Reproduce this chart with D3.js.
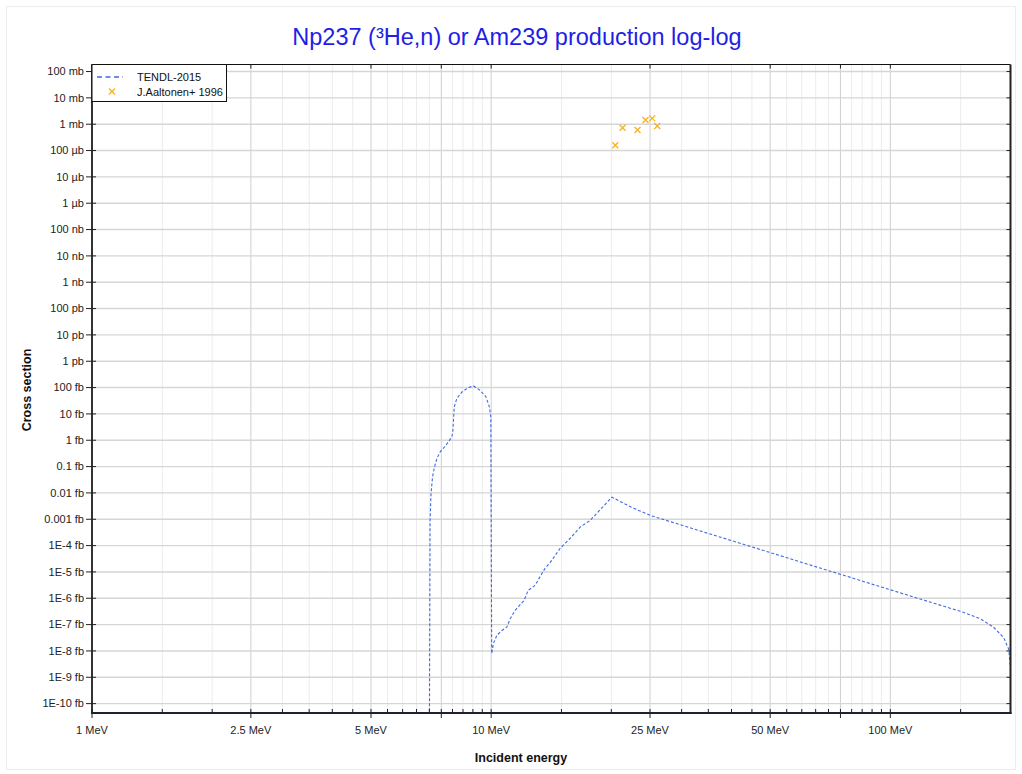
<!DOCTYPE html>
<html>
<head>
<meta charset="utf-8">
<script src="https://cdn.jsdelivr.net/npm/d3@7"></script>
<style>
  html, body { margin: 0; padding: 0; background: #fff; }
  svg { display: block; font-family: "Liberation Sans", Arial, Helvetica, sans-serif; }
</style>
</head>
<body>
<svg id="chart" width="1022" height="774"></svg>
<script>
// ---- data ----
const tendlEnergy = [7.0, 7.03, 7.07, 7.13, 7.21, 7.31, 7.45, 7.67, 7.97, 8.02, 8.08, 8.2, 8.45, 8.77, 9.03, 9.38, 9.71, 9.9, 9.98, 10.03,
  10.13, 10.33, 10.64, 10.95, 11.16, 11.49, 11.78, 12.09, 12.38, 12.89, 13.27, 13.66, 14.06, 14.89, 15.78, 16.72, 17.71, 20.07,
  22.4, 25.03, 33.4, 44.6, 59.5, 79.4, 94.4, 118.9, 149.8, 168.1, 181.5, 192.3, 198, 200];
const tendlXs = [1e-12, 9e-4, 0.0097, 0.04, 0.096, 0.2, 0.36, 0.59, 1.33, 2.4, 18, 38, 68, 100, 115, 79, 44, 18, 7.6, 7.9e-9,
  1.9e-8, 3.9e-8, 6e-8, 8.1e-8, 1.67e-7, 3.5e-7, 5.4e-7, 8.3e-7, 2e-6, 3.1e-6, 6.8e-6, 1.4e-5, 2.3e-5, 7.9e-5, 1.9e-4, 5.1e-4, 9.1e-4, 6.9e-3,
  2.9e-3, 1.4e-3, 3.6e-4, 9.3e-5, 2.4e-5, 6.2e-6, 2.75e-6, 9.3e-7, 3.2e-7, 1.66e-7, 7.9e-8, 3.2e-8, 1.15e-8, 2.3e-9]; // fb

const expEnergy = [20.46, 21.34, 23.26, 24.36, 25.32, 26.06];
const expXs = [1.6e11, 7.3e11, 6.0e11, 1.44e12, 1.67e12, 8.5e11]; // fb

const yTickValues = [1e14, 1e13, 1e12, 1e11, 1e10, 1e9, 1e8, 1e7, 1e6, 1e5, 1e4, 1e3, 1e2, 1e1, 1, 1e-1, 1e-2, 1e-3, 1e-4, 1e-5, 1e-6, 1e-7, 1e-8, 1e-9, 1e-10];
const yTickLabels = ["100 mb", "10 mb", "1 mb", "100 µb", "10 µb", "1 µb", "100 nb", "10 nb", "1 nb", "100 pb", "10 pb", "1 pb",
  "100 fb", "10 fb", "1 fb", "0.1 fb", "0.01 fb", "0.001 fb", "1E-4 fb", "1E-5 fb", "1E-6 fb", "1E-7 fb", "1E-8 fb", "1E-9 fb", "1E-10 fb"];

const xMajorTicks = [1, 2.5, 5, 7.5, 10, 25, 50, 75, 100];
const xLabelTicks = [1, 2.5, 5, 10, 25, 50, 100];
const xLabels = ["1 MeV", "2.5 MeV", "5 MeV", "10 MeV", "25 MeV", "50 MeV", "100 MeV"];
const xMinorTicks = [1.5, 2, 3, 3.5, 4, 4.5, 5.5, 6, 6.5, 7, 8, 8.5, 9, 9.5, 15, 20, 30, 35, 40, 45, 55, 60, 65, 70, 80, 85, 90, 95, 150];

const seriesNames = ["TENDL-2015", "J.Aaltonen+ 1996"];
const titleText = "Np237 (³He,n) or Am239 production log-log";

// ---- layout ----
const L = 92, R = 1010.5, T = 64.5, B = 713;
const svg = d3.select("#chart");

const x = d3.scaleLog().domain([1, 200]).range([L, R]);
const y = d3.scaleLog().domain([4.4e-11, 1.85e14]).range([B, T]);

// outer faint frame
svg.append("rect").attr("x", 6.5).attr("y", 6.5).attr("width", 1009).attr("height", 763)
  .attr("fill", "none").attr("stroke", "#ececec");

// title
svg.append("text").attr("x", 517).attr("y", 45).attr("text-anchor", "middle")
  .attr("font-size", 23.5).attr("fill", "#1e1ee6").text(titleText);

// grid
const grid = svg.append("g");
grid.selectAll(".minorV").data(xMinorTicks).join("line")
  .attr("x1", d => x(d)).attr("x2", d => x(d)).attr("y1", T).attr("y2", B)
  .attr("stroke", "#ececec").attr("stroke-width", 1);
grid.selectAll(".majorV").data(xMajorTicks).join("line")
  .attr("x1", d => x(d)).attr("x2", d => x(d)).attr("y1", T).attr("y2", B)
  .attr("stroke", "#cfcfcf").attr("stroke-width", 1);
grid.selectAll(".h").data(yTickValues).join("line")
  .attr("x1", L).attr("x2", R).attr("y1", d => y(d)).attr("y2", d => y(d))
  .attr("stroke", "#d6d6d6").attr("stroke-width", 1.4);

// clip
svg.append("clipPath").attr("id", "clip").append("rect")
  .attr("x", L).attr("y", T).attr("width", R - L).attr("height", B - T);

// TENDL line
const line = d3.line().x((d, i) => x(tendlEnergy[i])).y((d, i) => y(tendlXs[i]));
svg.append("path").datum(tendlXs).attr("clip-path", "url(#clip)")
  .attr("d", line).attr("fill", "none").attr("stroke", "#4169e1")
  .attr("stroke-width", 1.1).attr("stroke-dasharray", "3,2");

// experimental points
const cs = 3;
const pts = svg.append("g").selectAll("g").data(expXs).join("g")
  .attr("transform", (d, i) => `translate(${x(expEnergy[i])},${y(d)})`);
pts.append("path").attr("d", `M${-cs},${-cs}L${cs},${cs}M${-cs},${cs}L${cs},${-cs}`)
  .attr("stroke", "#f7b21e").attr("stroke-width", 1.3).attr("fill", "none");

// axes frame
svg.append("line").attr("x1", L).attr("x2", R).attr("y1", T).attr("y2", T).attr("stroke", "#111").attr("stroke-width", 1);
svg.append("line").attr("x1", L).attr("x2", L).attr("y1", T).attr("y2", B).attr("stroke", "#333").attr("stroke-width", 2);
svg.append("line").attr("x1", R).attr("x2", R).attr("y1", T).attr("y2", B + 1).attr("stroke", "#222").attr("stroke-width", 2);
svg.append("line").attr("x1", L - 1).attr("x2", R + 1).attr("y1", B).attr("y2", B).attr("stroke", "#1c2233").attr("stroke-width", 2);

// y axis ticks + labels
const yAx = svg.append("g");
yAx.selectAll(".yt").data(yTickValues).join("line")
  .attr("x1", L - 6).attr("x2", L + 4).attr("y1", d => y(d)).attr("y2", d => y(d))
  .attr("stroke", "#222").attr("stroke-width", 1);
yAx.selectAll(".ytr").data(yTickValues).join("line")
  .attr("x1", R - 4).attr("x2", R).attr("y1", d => y(d)).attr("y2", d => y(d))
  .attr("stroke", "#222").attr("stroke-width", 1);
yAx.selectAll("text").data(yTickValues).join("text")
  .attr("x", L - 8).attr("y", d => y(d)).attr("dy", "0.35em").attr("text-anchor", "end")
  .attr("font-size", 11).attr("fill", "#222").text((d, i) => yTickLabels[i]);

// x axis ticks + labels
const xAx = svg.append("g");
xAx.selectAll(".xmaj").data(xMajorTicks).join("line")
  .attr("x1", d => x(d)).attr("x2", d => x(d)).attr("y1", B - 4).attr("y2", B + 5)
  .attr("stroke", "#222").attr("stroke-width", 1);
xAx.selectAll(".xmin").data(xMinorTicks).join("line")
  .attr("x1", d => x(d)).attr("x2", d => x(d)).attr("y1", B - 4).attr("y2", B)
  .attr("stroke", "#222").attr("stroke-width", 1);
xAx.selectAll(".xtop").data(xMajorTicks).join("line")
  .attr("x1", d => x(d)).attr("x2", d => x(d)).attr("y1", T).attr("y2", T + 4)
  .attr("stroke", "#222").attr("stroke-width", 1);
xAx.selectAll("text").data(xLabelTicks).join("text")
  .attr("x", d => x(d)).attr("y", B + 21).attr("text-anchor", "middle")
  .attr("font-size", 11).attr("fill", "#222").text((d, i) => xLabels[i]);

// axis titles
svg.append("text").attr("x", 521).attr("y", 762).attr("text-anchor", "middle")
  .attr("font-size", 12.5).attr("font-weight", "bold").attr("fill", "#111").text("Incident energy");
svg.append("text").attr("transform", "translate(31,390) rotate(-90)").attr("text-anchor", "middle")
  .attr("font-size", 12.5).attr("font-weight", "bold").attr("fill", "#111").text("Cross section");

// legend
const lg = svg.append("g");
lg.append("rect").attr("x", 92).attr("y", 64.5).attr("width", 134.5).attr("height", 37)
  .attr("fill", "#fff").attr("stroke", "#111").attr("stroke-width", 1);
lg.append("line").attr("x1", 97).attr("x2", 123).attr("y1", 77).attr("y2", 77)
  .attr("stroke", "#4169e1").attr("stroke-width", 1.5).attr("stroke-dasharray", "5,3.5");
lg.append("path").attr("d", `M${112 - cs},${91.5 - cs}L${112 + cs},${91.5 + cs}M${112 - cs},${91.5 + cs}L${112 + cs},${91.5 - cs}`)
  .attr("stroke", "#f7b21e").attr("stroke-width", 1.3).attr("fill", "none");
lg.selectAll("text").data(seriesNames).join("text")
  .attr("x", 137).attr("y", (d, i) => 81 + i * 14.5)
  .attr("font-size", 11).attr("fill", "#111").text(d => d);
</script>
</body>
</html>
